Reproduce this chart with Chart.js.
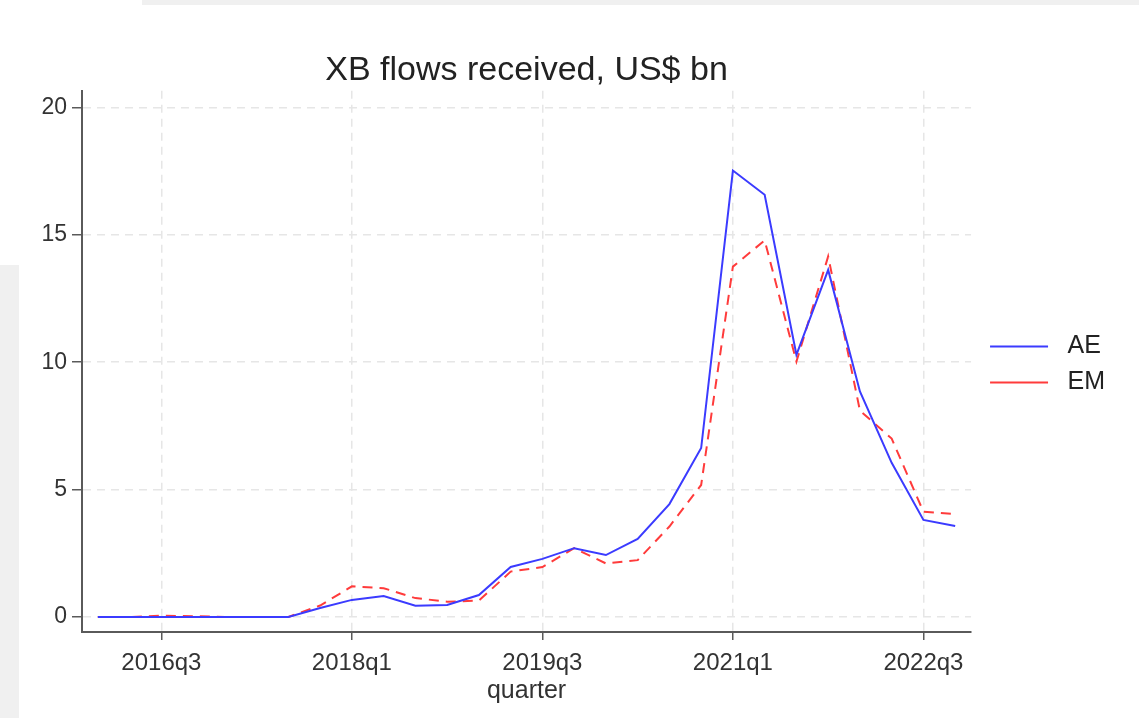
<!DOCTYPE html>
<html>
<head>
<meta charset="utf-8">
<script src="https://cdn.jsdelivr.net/npm/chart.js@4.4.1/dist/chart.umd.min.js"></script>
<style>
  body { margin: 0; background: #fff; }
  #wrap { position: relative; width: 1139px; height: 718px; overflow: hidden; }
  .shade { position: absolute; background: #f0f0f0; }
  canvas { position: absolute; left: 0; top: 0; }
</style>
</head>
<body>
<div id="wrap">
  <div class="shade" style="left:142px;top:0;width:997px;height:5px;"></div>
  <div class="shade" style="left:0;top:265px;width:19px;height:453px;"></div>
  <canvas id="flows_chart" width="1139" height="718"></canvas>
</div>
<script>
// quarters 2016q1 .. 2022q4
var quarters = [
  '2016q1','2016q2','2016q3','2016q4',
  '2017q1','2017q2','2017q3','2017q4',
  '2018q1','2018q2','2018q3','2018q4',
  '2019q1','2019q2','2019q3','2019q4',
  '2020q1','2020q2','2020q3','2020q4',
  '2021q1','2021q2','2021q3','2021q4',
  '2022q1','2022q2','2022q3','2022q4'
];

// XB flows received, US$ bn
var ae = [0, 0, 0, 0, 0, 0, 0, 0.35,
          0.67, 0.82, 0.44, 0.47, 0.86, 1.96, 2.28, 2.7,
          2.43, 3.06, 4.43, 6.63, 17.52, 16.57, 10.29, 13.62,
          8.85, 6.05, 3.81, 3.57];
var em = [0, 0, 0.05, 0.03, 0, 0, 0, 0.45,
          1.2, 1.13, 0.74, 0.6, 0.64, 1.78, 1.96, 2.7,
          2.1, 2.23, 3.55, 5.18, 13.75, 14.78, 10.02, 14.15,
          8.1, 7.0, 4.13, 4.04];

var tickLabels = ['2016q3', '2018q1', '2019q3', '2021q1', '2022q3'];
var yTicks = [0, 5, 10, 15, 20];

var gridColor = '#e6e6e6';
var axisColor = '#5a5a5a';
var textColor = '#333333';

Chart.defaults.font.family = '"Liberation Sans", Arial, Helvetica, sans-serif';

var ctx = document.getElementById('flows_chart');
var flowsChart = new Chart(ctx, {
  type: 'line',
  data: {
    labels: quarters,
    datasets: [{
      label: ' AE',
      data: ae,
      borderColor: '#3b3bff',
      borderWidth: 2,
      pointRadius: 0,
      tension: 0,
      fill: false
    }, {
      label: ' EM',
      data: em,
      borderColor: '#ff3b3b',
      borderWidth: 2,
      borderDash: [10, 7],
      pointRadius: 0,
      tension: 0,
      fill: false
    }]
  },
  options: {
    responsive: false,
    animation: false,
    layout: { padding: { left: 0, right: 24, top: 0, bottom: 0 } },
    plugins: {
      title: {
        display: true,
        fullSize: false,
        text: 'XB flows received, US$ bn',
        color: '#222',
        font: { size: 34, weight: 'normal' },
        padding: { top: 50, bottom: 0 }
      },
      legend: {
        position: 'right',
        align: 'center',
        // empty legend title only pushes the two entries down a little
        title: { display: true, text: '', font: { size: 5 }, padding: 2.5 },
        labels: {
          usePointStyle: true,
          pointStyle: 'line',
          pointStyleWidth: 58,
          boxHeight: 25,
          padding: 11,
          color: '#222',
          font: { size: 25 }
        }
      },
      tooltip: { enabled: false }
    },
    scales: {
      x: {
        type: 'category',
        offset: true,
        afterBuildTicks: function(axis) {
          axis.ticks = axis.ticks.filter(function(t) {
            return tickLabels.indexOf(quarters[t.value]) >= 0;
          });
        },
        afterFit: function(axis) { axis.height = 86; },
        grid: {
          offset: false,
          color: gridColor,
          lineWidth: 1.5,
          tickColor: axisColor,
          tickLength: 8,
          tickWidth: 1.5
        },
        border: { display: true, color: axisColor, width: 2, dash: [8, 6] },
        ticks: {
          autoSkip: false,
          maxRotation: 0,
          color: textColor,
          padding: 9,
          font: { size: 24 }
        },
        title: {
          display: true,
          text: 'quarter',
          color: textColor,
          font: { size: 25 },
          padding: { top: 0, bottom: 12 }
        }
      },
      y: {
        min: -0.59,
        max: 20.65,
        afterBuildTicks: function(axis) {
          axis.ticks = yTicks.map(function(v) { return { value: v }; });
        },
        afterFit: function(axis) { axis.width = 82; },
        grid: {
          color: gridColor,
          lineWidth: 1.5,
          tickColor: axisColor,
          tickLength: 10,
          tickWidth: 1.5
        },
        border: { display: true, color: axisColor, width: 2, dash: [8, 6] },
        ticks: {
          color: textColor,
          padding: 5,
          font: { size: 23 }
        }
      },
      // empty strip between the plot and the legend
      gap: {
        type: 'linear',
        position: 'right',
        grid: { display: false },
        border: { display: false },
        ticks: { display: false },
        afterFit: function(axis) { axis.width = 8; }
      }
    }
  }
});
</script>
</body>
</html>
